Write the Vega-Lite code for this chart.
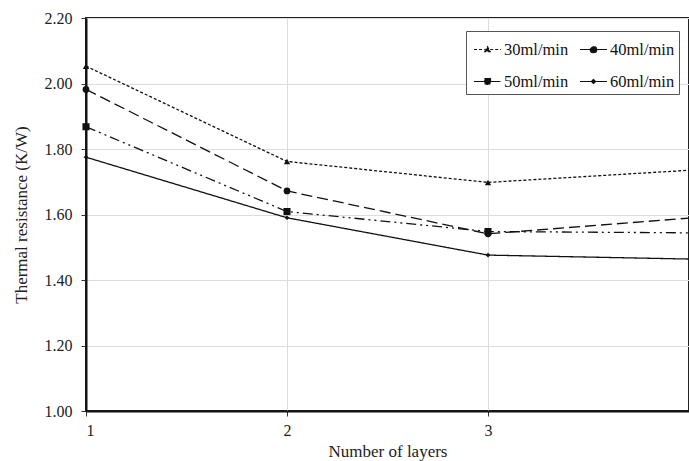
{
  "$schema": "https://vega.github.io/schema/vega-lite/v6.json",
  "width": 603,
  "height": 393,
  "autosize": {"type": "none"},
  "padding": {"left": 86, "top": 18, "right": 0, "bottom": 50},
  "background": "white",
  "config": {
    "font": "Times New Roman, Liberation Serif, serif",
    "view": {"stroke": "#222", "strokeWidth": 2},
    "axis": {
      "labelFont": "Times New Roman, Liberation Serif, serif",
      "titleFont": "Times New Roman, Liberation Serif, serif",
      "labelFontSize": 16,
      "titleFontSize": 17,
      "titleFontWeight": "normal",
      "labelColor": "#222",
      "titleColor": "#222",
      "domainColor": "#111",
      "domainWidth": 2,
      "tickColor": "#333",
      "tickSize": 5,
      "gridColor": "#dcdcdc",
      "gridWidth": 1
    },
    "legend": {
      "labelFont": "Times New Roman, Liberation Serif, serif"
    }
  },
  "data": {
    "values": [
      {"series": "30ml/min", "layers": 1, "value": 2.053},
      {"series": "30ml/min", "layers": 2, "value": 1.762},
      {"series": "30ml/min", "layers": 3, "value": 1.698},
      {"series": "30ml/min", "layers": 4, "value": 1.735},
      {"series": "40ml/min", "layers": 1, "value": 1.982},
      {"series": "40ml/min", "layers": 2, "value": 1.672},
      {"series": "40ml/min", "layers": 3, "value": 1.541},
      {"series": "40ml/min", "layers": 4, "value": 1.589},
      {"series": "50ml/min", "layers": 1, "value": 1.868},
      {"series": "50ml/min", "layers": 2, "value": 1.609},
      {"series": "50ml/min", "layers": 3, "value": 1.548},
      {"series": "50ml/min", "layers": 4, "value": 1.544},
      {"series": "60ml/min", "layers": 1, "value": 1.775},
      {"series": "60ml/min", "layers": 2, "value": 1.590},
      {"series": "60ml/min", "layers": 3, "value": 1.476},
      {"series": "60ml/min", "layers": 4, "value": 1.464}
    ]
  },
  "encoding": {
    "x": {
      "field": "layers",
      "type": "quantitative",
      "scale": {"domain": [1, 4], "nice": false, "zero": false},
      "axis": {
        "title": "Number of layers",
        "values": [1, 2, 3],
        "format": "d",
        "labelPadding": 6,
        "titlePadding": 5
      }
    },
    "y": {
      "field": "value",
      "type": "quantitative",
      "scale": {"domain": [1.0, 2.2], "nice": false, "zero": false},
      "axis": {
        "title": "Thermal resistance (K/W)",
        "values": [1.0, 1.2, 1.4, 1.6, 1.8, 2.0, 2.2],
        "format": ".2f",
        "labelPadding": 9,
        "titlePadding": 14
      }
    }
  },
  "layer": [
    {
      "mark": {"type": "line", "color": "#111", "strokeWidth": 1.3, "clip": true},
      "encoding": {
        "detail": {"field": "series"},
        "strokeDash": {
          "field": "series",
          "type": "nominal",
          "scale": {
            "domain": ["30ml/min", "40ml/min", "50ml/min", "60ml/min"],
            "range": [[3, 2], [11, 5], [10, 4, 2, 4, 2, 4], [1, 0]]
          },
          "legend": {
            "title": null,
            "orient": "none",
            "direction": "horizontal",
            "legendX": 380,
            "legendY": 13,
            "columns": 2,
            "columnPadding": 7,
            "rowPadding": 9,
            "padding": 4,
            "symbolOffset": 3,
            "strokeColor": "#555",
            "fillColor": "white",
            "labelFontSize": 16.5,
            "labelColor": "#111",
            "labelOffset": 2,
            "symbolSize": 729,
            "symbolStrokeColor": "#111",
            "symbolFillColor": "#111",
            "symbolStrokeWidth": 1.2,
            "encode": {
              "symbols": {
                "update": {
                  "shape": {"signal": "datum.value == '30ml/min' ? 'M-1,0H-0.2M0.2,0H1M-0.2,0.15L0,-0.2L0.2,0.15Z' : datum.value == '40ml/min' ? 'M-1,0H1M0.24,0A0.24,0.24 0 1,1 -0.24,0A0.24,0.24 0 1,1 0.24,0Z' : datum.value == '50ml/min' ? 'M-1,0H-0.22M0.22,0H1M-0.22,-0.22H0.22V0.22H-0.22Z' : 'M-1,0H1M0,-0.15L0.15,0L0,0.15L-0.15,0Z'"}
                }
              }
            }
          }
        }
      }
    },
    {
      "transform": [{"filter": "datum.layers <= 3 && datum.series == '30ml/min'"}],
      "mark": {"type": "point", "filled": true, "color": "#111", "opacity": 1, "shape": "triangle-up", "size": 40},
      "encoding": {}
    },
    {
      "transform": [{"filter": "datum.layers <= 3 && datum.series == '40ml/min'"}],
      "mark": {"type": "point", "filled": true, "color": "#111", "opacity": 1, "shape": "circle", "size": 45},
      "encoding": {}
    },
    {
      "transform": [{"filter": "datum.layers <= 3 && datum.series == '50ml/min'"}],
      "mark": {"type": "point", "filled": true, "color": "#111", "opacity": 1, "shape": "square", "size": 50},
      "encoding": {}
    },
    {
      "transform": [{"filter": "datum.layers <= 3 && datum.series == '60ml/min'"}],
      "mark": {"type": "point", "filled": true, "color": "#111", "opacity": 1, "shape": "diamond", "size": 22},
      "encoding": {}
    }
  ]
}
